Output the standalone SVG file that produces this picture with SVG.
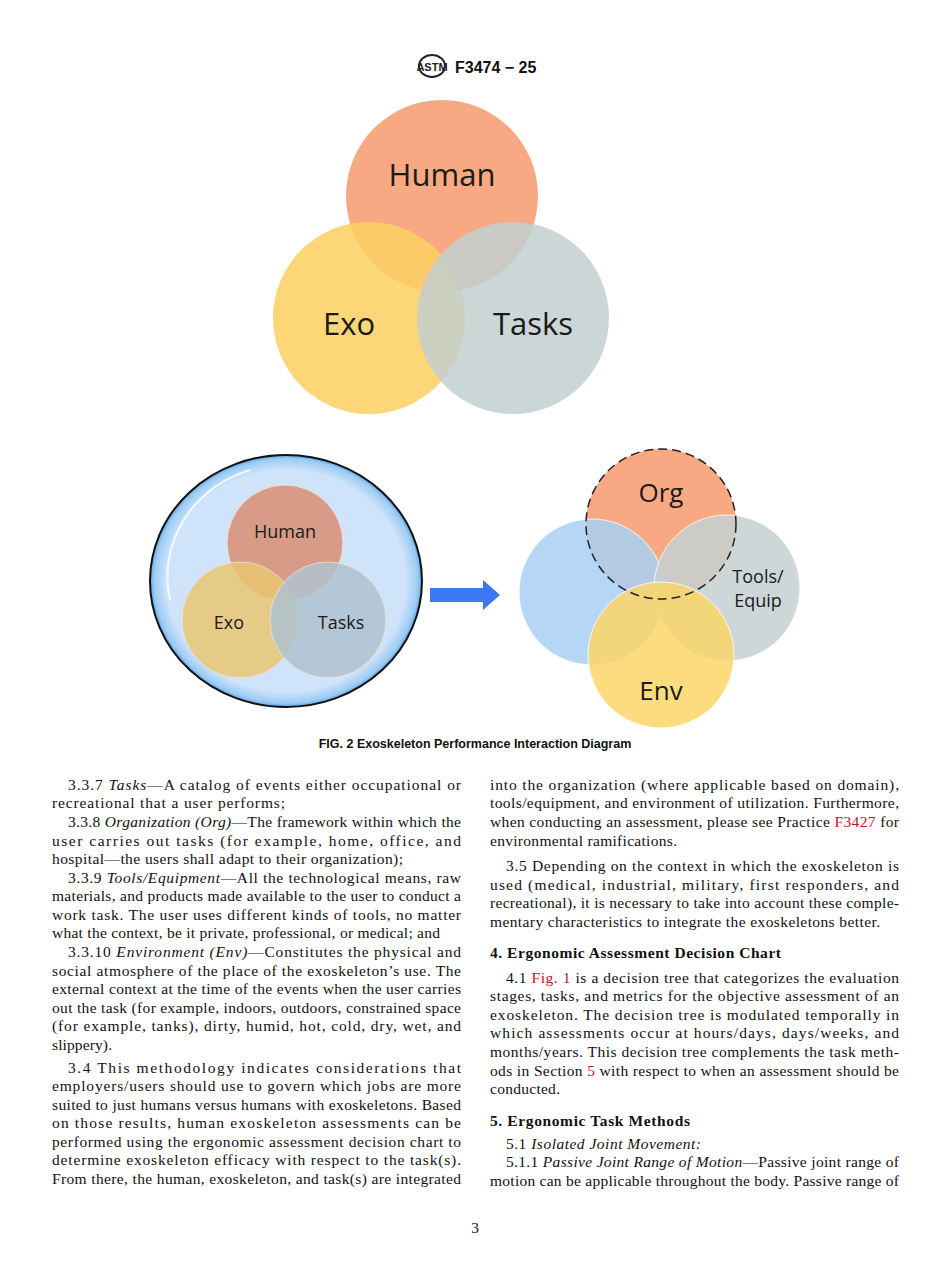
<svg xmlns="http://www.w3.org/2000/svg" width="950" height="1272" viewBox="0 0 950 1272">
<defs>
<radialGradient id="bg" cx="0.5" cy="0.5" r="0.5"><stop offset="0.88" stop-color="#cfe4fb"/><stop offset="0.97" stop-color="#9ccbf3"/><stop offset="1" stop-color="#5aa3e6"/></radialGradient>
</defs>
<style>
.s{font-family:"Open Sans","Liberation Sans",sans-serif;fill:#1a1a1a;text-anchor:middle}
.t{font-family:"Liberation Serif",serif;font-size:15.5px;fill:#111}
.i{font-style:italic}
.r{fill:#c0141c}
.h{font-weight:bold}
</style>
<rect width="950" height="1272" fill="#fff"/>
<g id="header">
<ellipse cx="432" cy="66" rx="13" ry="11" fill="none" stroke="#222" stroke-width="2"/>
<text x="432" y="71" font-family="Liberation Sans" font-size="11" font-weight="bold" text-anchor="middle" fill="#222">ASTM</text>
<text x="455" y="73" font-family="Liberation Sans,sans-serif" font-size="16" font-weight="bold" fill="#111">F3474 − 25</text>
</g>
<g id="venn-top" opacity="0.85">
<circle id="human" cx="442" cy="196" r="96" fill="#f79a6e"/>
<circle id="exo" cx="369" cy="318" r="96" fill="#fcc84a" opacity="0.88"/>
<circle id="tasks" cx="513" cy="318" r="96" fill="#b8c7c7" opacity="0.85"/>
</g>
<g id="venn-top-labels">
<text class="s" x="442" y="186" font-size="31">Human</text>
<text class="s" x="349" y="335" font-size="31">Exo</text>
<text class="s" x="533" y="335" font-size="31">Tasks</text>
</g>
<g id="left-group">
<ellipse cx="286" cy="581" rx="136" ry="126" fill="url(#bg)" stroke="#111" stroke-width="2"/>
<path d="M170,600 A118,112 0 0 1 250,470" fill="none" stroke="#fff" stroke-width="2" opacity="0.8"/>
<g opacity="0.8">
<circle cx="285" cy="543" r="58" fill="#d98a6c" stroke="#f5e6d8"/>
<circle cx="240" cy="620" r="58" fill="#f0c050" stroke="#f5e6d8" opacity="0.85"/>
<circle cx="328" cy="620" r="58" fill="#a9bcc6" stroke="#f5e6d8" opacity="0.85"/>
</g>
<text class="s" x="285" y="538" font-size="18">Human</text>
<text class="s" x="229" y="629" font-size="18">Exo</text>
<text class="s" x="341" y="629" font-size="18">Tasks</text>
</g>
<g id="connectors">
<polygon points="430,588 483,588 483,580 500,595 483,610 483,602 430,602" fill="#3c78f5"/>
</g>
<g id="right-group">
<g opacity="0.85">
<circle cx="661" cy="524" r="75" fill="#f79a6e"/>
<circle cx="592" cy="592" r="73" fill="#9cc8f3" stroke="#fff" opacity="0.85"/>
<circle cx="727" cy="588" r="73" fill="#bcc9c9" stroke="#fff" opacity="0.85"/>
<circle cx="661" cy="655" r="73" fill="#fcd050" stroke="#fff" opacity="0.85"/>
</g>
<circle cx="661" cy="524" r="75" fill="none" stroke="#222" stroke-width="1.5" stroke-dasharray="9,5"/>
<text class="s" x="661" y="502" font-size="26">Org</text>
<text class="s" x="758" y="583" font-size="18">Tools/</text>
<text class="s" x="758" y="607" font-size="18">Equip</text>
<text class="s" x="661" y="700" font-size="26">Env</text>
</g>
<text x="475" y="748" font-family="Liberation Sans,sans-serif" font-size="12.5" font-weight="bold" text-anchor="middle" fill="#111">FIG. 2 Exoskeleton Performance Interaction Diagram</text>
<g id="left-col" class="t">
<text x="68" y="790" textLength="393" lengthAdjust="spacing">3.3.7 <tspan class="i">Tasks</tspan>—A catalog of events either occupational or</text>
<text x="52" y="808" textLength="233" lengthAdjust="spacing">recreational that a user performs;</text>
<text x="68" y="827" textLength="393" lengthAdjust="spacing">3.3.8 <tspan class="i">Organization (Org)</tspan>—The framework within which the</text>
<text x="52" y="846" textLength="409" lengthAdjust="spacing">user carries out tasks (for example, home, office, and</text>
<text x="52" y="864" textLength="351" lengthAdjust="spacing">hospital—the users shall adapt to their organization);</text>
<text x="68" y="883" textLength="393" lengthAdjust="spacing">3.3.9 <tspan class="i">Tools/Equipment</tspan>—All the technological means, raw</text>
<text x="52" y="901" textLength="409" lengthAdjust="spacing">materials, and products made available to the user to conduct a</text>
<text x="52" y="920" textLength="409" lengthAdjust="spacing">work task. The user uses different kinds of tools, no matter</text>
<text x="52" y="938" textLength="388" lengthAdjust="spacing">what the context, be it private, professional, or medical; and</text>
<text x="68" y="957" textLength="393" lengthAdjust="spacing">3.3.10 <tspan class="i">Environment (Env)</tspan>—Constitutes the physical and</text>
<text x="52" y="976" textLength="409" lengthAdjust="spacing">social atmosphere of the place of the exoskeleton’s use. The</text>
<text x="52" y="994" textLength="409" lengthAdjust="spacing">external context at the time of the events when the user carries</text>
<text x="52" y="1013" textLength="409" lengthAdjust="spacing">out the task (for example, indoors, outdoors, constrained space</text>
<text x="52" y="1031" textLength="409" lengthAdjust="spacing">(for example, tanks), dirty, humid, hot, cold, dry, wet, and</text>
<text x="52" y="1050" textLength="60" lengthAdjust="spacing">slippery).</text>
<text x="68" y="1073" textLength="393" lengthAdjust="spacing">3.4 This methodology indicates considerations that</text>
<text x="52" y="1091" textLength="409" lengthAdjust="spacing">employers/users should use to govern which jobs are more</text>
<text x="52" y="1110" textLength="409" lengthAdjust="spacing">suited to just humans versus humans with exoskeletons. Based</text>
<text x="52" y="1128" textLength="409" lengthAdjust="spacing">on those results, human exoskeleton assessments can be</text>
<text x="52" y="1147" textLength="409" lengthAdjust="spacing">performed using the ergonomic assessment decision chart to</text>
<text x="52" y="1165" textLength="409" lengthAdjust="spacing">determine exoskeleton efficacy with respect to the task(s).</text>
<text x="52" y="1184" textLength="409" lengthAdjust="spacing">From there, the human, exoskeleton, and task(s) are integrated</text>
</g>
<g id="right-col" class="t">
<text x="490" y="790" textLength="409" lengthAdjust="spacing">into the organization (where applicable based on domain),</text>
<text x="490" y="808" textLength="409" lengthAdjust="spacing">tools/equipment, and environment of utilization. Furthermore,</text>
<text x="490" y="827" textLength="409" lengthAdjust="spacing">when conducting an assessment, please see Practice <tspan class="r">F3427</tspan> for</text>
<text x="490" y="846" textLength="187" lengthAdjust="spacing">environmental ramifications.</text>
<text x="506" y="871" textLength="393" lengthAdjust="spacing">3.5 Depending on the context in which the exoskeleton is</text>
<text x="490" y="890" textLength="409" lengthAdjust="spacing">used (medical, industrial, military, first responders, and</text>
<text x="490" y="908" textLength="409" lengthAdjust="spacing">recreational), it is necessary to take into account these comple-</text>
<text x="490" y="927" textLength="390" lengthAdjust="spacing">mentary characteristics to integrate the exoskeletons better.</text>
<text x="490" y="958" class="h" textLength="291" lengthAdjust="spacing">4.  Ergonomic Assessment Decision Chart</text>
<text x="506" y="983" textLength="393" lengthAdjust="spacing">4.1 <tspan class="r">Fig. 1</tspan> is a decision tree that categorizes the evaluation</text>
<text x="490" y="1001" textLength="409" lengthAdjust="spacing">stages, tasks, and metrics for the objective assessment of an</text>
<text x="490" y="1020" textLength="409" lengthAdjust="spacing">exoskeleton. The decision tree is modulated temporally in</text>
<text x="490" y="1038" textLength="409" lengthAdjust="spacing">which assessments occur at hours/days, days/weeks, and</text>
<text x="490" y="1057" textLength="409" lengthAdjust="spacing">months/years. This decision tree complements the task meth-</text>
<text x="490" y="1076" textLength="409" lengthAdjust="spacing">ods in Section <tspan class="r">5</tspan> with respect to when an assessment should be</text>
<text x="490" y="1094" textLength="70" lengthAdjust="spacing">conducted.</text>
<text x="490" y="1126" class="h" textLength="200" lengthAdjust="spacing">5.  Ergonomic Task Methods</text>
<text x="506" y="1149" textLength="195" lengthAdjust="spacing">5.1  <tspan class="i">Isolated Joint Movement:</tspan></text>
<text x="506" y="1167" textLength="393" lengthAdjust="spacing">5.1.1  <tspan class="i">Passive Joint Range of Motion</tspan>—Passive joint range of</text>
<text x="490" y="1186" textLength="409" lengthAdjust="spacing">motion can be applicable throughout the body. Passive range of</text>
</g>
<text x="475" y="1233" class="t" text-anchor="middle">3</text>
</svg>
